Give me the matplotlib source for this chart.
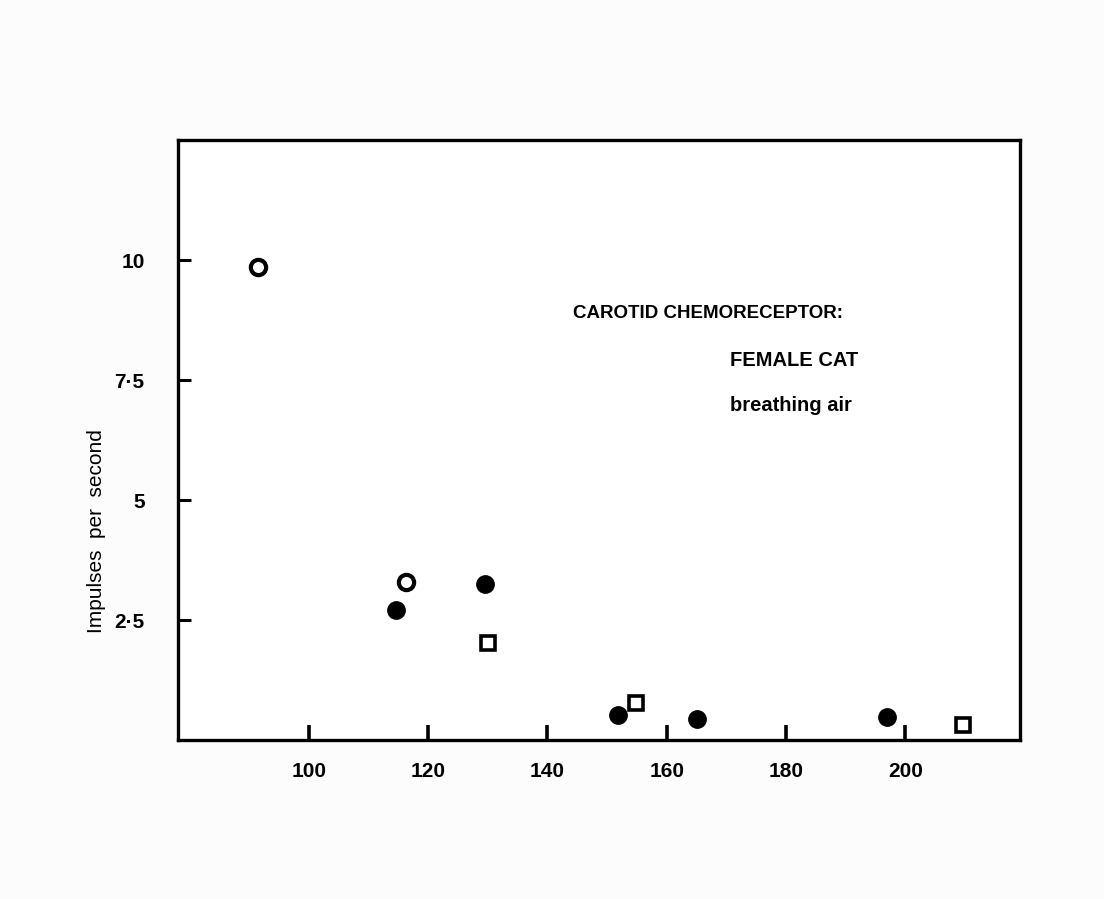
"""Carotid chemoreceptor discharge in a female cat breathing air."""

import matplotlib.pyplot as plt

# Open circles
open_circle_x = [91.5, 116.3]
open_circle_y = [9.85, 3.29]

# Filled circles
filled_circle_x = [114.7, 129.6, 151.9, 165.0, 196.9]
filled_circle_y = [2.71, 3.25, 0.52, 0.44, 0.48]

# Open squares
open_square_x = [130.1, 154.9, 209.6]
open_square_y = [2.02, 0.77, 0.31]

x_ticks = [100, 120, 140, 160, 180, 200]
y_ticks = [2.5, 5, 7.5, 10]
y_tick_labels = ["2·5", "5", "7·5", "10"]

FONT = ["Liberation Sans Narrow", "Liberation Sans", "DejaVu Sans"]

fig = plt.figure(figsize=(11.04, 8.99), dpi=100, facecolor="#fcfcfc")
ax = fig.add_axes([178 / 1104, 1 - 740 / 899, (1020 - 178) / 1104, 600 / 899])
ax.set_facecolor("white")

ax.plot(open_circle_x, open_circle_y, "o", ms=11, mfc="white", mec="black",
        mew=3.0, ls="none")
ax.plot(filled_circle_x, filled_circle_y, "o", ms=12.5, mfc="black",
        mec="black", ls="none")
ax.plot(open_square_x, open_square_y, "s", ms=9.5, mfc="white", mec="black",
        mew=2.6, ls="none")

ax.set_xlim(78.1, 219.2)
ax.set_ylim(0, 12.5)

for side in ["left", "right", "top", "bottom"]:
    ax.spines[side].set_linewidth(2.4)

ax.set_xticks(x_ticks)
ax.set_xticklabels([str(v) for v in x_ticks], family=FONT, fontsize=15,
                   fontweight="bold")
ax.set_yticks(y_ticks)
ax.set_yticklabels(y_tick_labels, family=FONT, fontsize=15, fontweight="bold")
ax.tick_params(axis="x", direction="in", length=11, width=2.6, pad=16)
ax.tick_params(axis="y", direction="in", length=9, width=2.2, pad=24)

ax.set_ylabel("Impulses  per  second", family=FONT, fontsize=15)
ax.yaxis.set_label_coords(-0.085, 0.348)

ax.text(144.3, 8.875, "CAROTID CHEMORECEPTOR:", family=FONT, fontsize=13.5,
        fontweight="bold", va="center")
ax.text(170.6, 7.896, "FEMALE CAT", family=FONT, fontsize=14.5,
        fontweight="bold", va="center")
ax.text(170.6, 6.854, "breathing air", family=FONT, fontsize=14.5,
        fontweight="bold", va="baseline")

fig.savefig("out.png", dpi=100, facecolor=fig.get_facecolor())
